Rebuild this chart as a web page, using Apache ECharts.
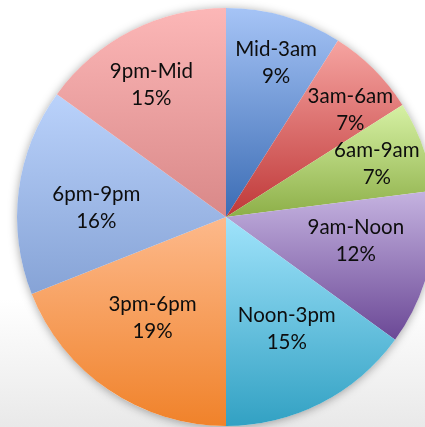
<!DOCTYPE html>
<html>
<head>
<meta charset="utf-8">
<script src="https://cdn.jsdelivr.net/npm/echarts@6/dist/echarts.min.js"></script>
<style>
html,body{margin:0;padding:0;background:#fff;}
#chart{width:425px;height:427px;}
</style>
</head>
<body>
<div id="chart"></div>
<script>
const categories = ['Mid-3am','3am-6am','6am-9am','9am-Noon','Noon-3pm','3pm-6pm','6pm-9pm','9pm-Mid'];
const values = [9, 7, 7, 12, 15, 19, 16, 15];
const topColors = ['#a6c4f6','#f6a4a1','#d6f1a4','#c5b3e0','#a0e3fb','#fdb98b','#bad2fb','#fcb7b7'];
const bottomColors = ['#3b6cb4','#bf3838','#8daf48','#6b4896','#32a1c3','#f0822a','#86a3d6','#d98888'];
// label placement (style): distance from centre and angular shift from slice mid-angle
const labelRadius = [162, 164, 160, 132, 127, 125, 130, 152];
const labelAngleShift = [1.8, 4.3, 0.3, -3.9, -1.6, 1.8, -3.1, -2.4];

const CX = 226, CY = 217, R = 209;

const chart = echarts.init(document.getElementById('chart'));
const data = categories.map((name, i) => ({
  name: name,
  value: values[i],
  itemStyle: {
    color: new echarts.graphic.LinearGradient(0, 0, 0, 1, [
      {offset: 0, color: topColors[i]},
      {offset: 1, color: bottomColors[i]}
    ])
  }
}));

chart.setOption({
  backgroundColor: new echarts.graphic.LinearGradient(0, 0, 0, 1, [
    {offset: 0, color: '#ffffff'},
    {offset: 0.7, color: '#ffffff'},
    {offset: 1, color: '#e9e9e9'}
  ]),
  animation: false,
  series: [
    {
      type: 'pie',
      silent: true,
      center: [CX, CY],
      radius: [0, R],
      data: [{value: 1, name: 'shadow'}],
      label: {show: false},
      labelLine: {show: false},
      itemStyle: {
        color: '#ffffff',
        shadowBlur: 10,
        shadowColor: 'rgba(0,0,0,0.35)',
        shadowOffsetX: 0,
        shadowOffsetY: 1
      },
      z: 1
    },
    {
      type: 'pie',
      center: [CX, CY],
      radius: [0, R],
      startAngle: 90,
      clockwise: true,
      data: data,
      itemStyle: {borderWidth: 0},
      label: {
        show: true,
        position: 'inside',
        formatter: '{b}\n{c}%',
        fontFamily: 'Lato',
        fontSize: 20.5,
        lineHeight: 27,
        color: '#0d0d0d',
        align: 'center'
      },
      labelLine: {show: false},
      labelLayout: function (params) {
        const r = params.labelRect;
        const lx = r.x + r.width / 2;
        const ly = r.y + r.height / 2;
        const i = params.dataIndex;
        const a = Math.atan2(lx - CX, -(ly - CY)) + labelAngleShift[i] * Math.PI / 180;
        const target = labelRadius[i];
        return {
          dx: CX + Math.sin(a) * target - lx,
          dy: CY - Math.cos(a) * target - ly
        };
      },
      z: 2
    }
  ]
});
</script>
</body>
</html>
